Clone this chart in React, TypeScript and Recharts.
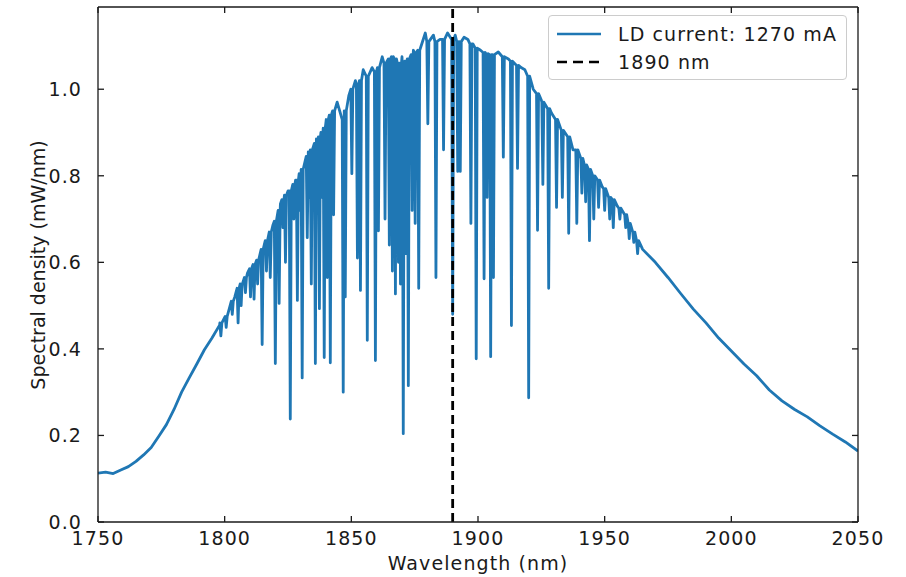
import { LineChart, Line, XAxis, YAxis, ReferenceLine, Label } from 'recharts'

// smooth upper envelope of the spectrum (nm, mW/nm)
const baseNm = [
  1750, 1753, 1756, 1759, 1762, 1765, 1768, 1771, 1774, 1777, 1780, 1783, 1786, 1789, 1792, 1795, 1798,
  1801, 1804, 1807, 1809, 1813, 1816, 1819, 1822, 1825, 1828, 1831, 1834, 1837, 1840, 1843, 1844.4, 1849,
  1851.6, 1854.7, 1858.2, 1862.2, 1865.8, 1870, 1874.5, 1877, 1879.2, 1882.4, 1885, 1888, 1891, 1894.5, 1896,
  1898, 1901, 1904, 1908, 1912, 1917, 1918.5, 1921.8, 1925, 1929, 1933, 1937.5, 1942, 1946, 1949, 1952,
  1955, 1960, 1965, 1970, 1975, 1980, 1985, 1990, 1995, 2000, 2005, 2010, 2015, 2020, 2025, 2030, 2035,
  2040, 2045, 2050,
]
const baseMw = [
  0.113, 0.115, 0.112, 0.12, 0.128, 0.14, 0.155, 0.172, 0.198, 0.225, 0.26, 0.3, 0.333, 0.365, 0.398, 0.425, 0.455,
  0.485, 0.52, 0.55, 0.575, 0.605, 0.65, 0.685, 0.735, 0.765, 0.79, 0.82, 0.86, 0.89, 0.925, 0.955, 0.97, 0.985,
  1.02, 1.045, 1.05, 1.075, 1.09, 1.075, 1.09, 1.1, 1.13, 1.125, 1.115, 1.13, 1.125, 1.12, 1.115,
  1.105, 1.09, 1.085, 1.086, 1.07, 1.05, 1.045, 1.0, 0.975, 0.945, 0.91, 0.86, 0.825, 0.8, 0.775, 0.75,
  0.73, 0.675, 0.63, 0.6, 0.565, 0.528, 0.492, 0.46, 0.425, 0.395, 0.365, 0.338, 0.305, 0.28, 0.26, 0.243, 0.222,
  0.203, 0.185, 0.164,
]

// absorption lines: centre, level either side, bottom of the dip
const dipNm = [
  1798.5, 1800.6, 1803.0, 1805.3, 1806.5, 1808.2, 1810.2, 1811.6, 1813.0, 1814.8, 1816.5, 1818.0, 1820.0,
  1821.5, 1823.0, 1824.0, 1825.9, 1827.3, 1828.7, 1829.8, 1830.6, 1832.6, 1833.4, 1834.2, 1835.8, 1836.6,
  1837.4, 1838.4, 1839.3, 1840.5, 1841.7, 1843.0, 1846.8, 1847.6, 1850.2, 1852.4, 1853.6, 1856.3, 1859.5,
  1860.7, 1863.3, 1865.0, 1866.2, 1867.4, 1868.6, 1869.4, 1870.5, 1871.5, 1872.5, 1874.0, 1875.2, 1876.6,
  1880.2, 1883.4, 1886.4, 1890.0, 1892.0, 1893.0, 1897.2, 1899.3, 1902.4, 1903.6, 1905.0, 1906.1, 1910.0,
  1913.2, 1915.6, 1920.0, 1923.5, 1925.6, 1927.9, 1931.0, 1933.3, 1935.8, 1939.0, 1941.0, 1942.5, 1944.0,
  1945.7, 1947.6, 1950.0, 1952.0, 1953.4, 1956.0, 1958.3, 1959.7, 1961.5, 1963.0,
]
const dipTop = [
  0.46, 0.475, 0.51, 0.54, 0.55, 0.565, 0.585, 0.595, 0.605, 0.63, 0.65, 0.67, 0.695,
  0.72, 0.745, 0.755, 0.765, 0.78, 0.79, 0.805, 0.815, 0.845, 0.855, 0.86, 0.875, 0.885,
  0.89, 0.9, 0.91, 0.93, 0.94, 0.95, 0.93, 0.95, 1.0, 1.01, 1.02, 1.03, 1.04,
  1.05, 1.06, 1.07, 1.075, 1.07, 1.06, 1.06, 1.06, 1.065, 1.07, 1.08, 1.085, 1.09,
  1.11, 1.11, 1.115, 1.115, 1.11, 1.11, 1.105, 1.095, 1.085, 1.082, 1.08,
  1.08, 1.075, 1.065, 1.055, 1.03, 0.99, 0.97, 0.955,
  0.93, 0.905, 0.89, 0.86, 0.84, 0.825, 0.815, 0.8, 0.79, 0.77, 0.75, 0.745,
  0.725, 0.71, 0.69, 0.67, 0.65,
]
const dipFloor = [
  0.43, 0.45, 0.48, 0.46, 0.5, 0.53, 0.52, 0.515, 0.55, 0.41, 0.58, 0.565, 0.366,
  0.505, 0.68, 0.6, 0.238, 0.7, 0.512, 0.72, 0.333, 0.657, 0.75, 0.55, 0.366, 0.8,
  0.493, 0.75, 0.38, 0.565, 0.368, 0.71, 0.3, 0.52, 0.805, 0.61, 0.535, 0.42, 0.373,
  0.673, 0.7, 0.64, 0.58, 0.527, 0.6, 0.55, 0.204, 0.62, 0.315, 0.72, 0.69, 0.54,
  0.92, 0.565, 0.86, 0.48, 0.81, 0.81, 0.69, 0.377, 0.562, 0.75, 0.382, 0.565, 0.843,
  0.454, 0.817, 0.287, 0.674, 0.78, 0.54, 0.727, 0.75, 0.667, 0.69, 0.76, 0.74, 0.65,
  0.7, 0.727, 0.72, 0.7, 0.68, 0.7, 0.68, 0.655, 0.646, 0.62,
]

const xTicks = [1750, 1800, 1850, 1900, 1950, 2000, 2050]
const yTicks = [0, 0.2, 0.4, 0.6, 0.8, 1.0]
const markerNm = 1890
const seriesName = 'LD current: 1270 mA'
const markerName = '1890 nm'

const font = '"DejaVu Sans", sans-serif'
const ink = '#1a1a1a'
const blue = '#1f77b4'
const W = 906
const H = 577
const plotTop = 7
const plotBottom = 522
const plotLeft = 98
const plotRight = 858
const tickLen = 6

const points = [
  ...baseNm
    .map((nm, i) => ({ nm, mw: baseMw[i] }))
    .filter((p) => !dipNm.some((d) => Math.abs(d - p.nm) < 0.5)),
  ...dipNm.flatMap((nm, i) => [
    { nm: nm - 0.4, mw: dipTop[i] },
    { nm, mw: dipFloor[i] },
    { nm: nm + 0.4, mw: dipTop[i] },
  ]),
].sort((a, b) => a.nm - b.nm)

const textStyle = { fontFamily: font, fontSize: 19, fill: ink, letterSpacing: 1.1 }
const frame = { stroke: ink, strokeWidth: 1.3 }

// matplotlib style: ticks point into the plot on all four sides
const BottomTick = (p: any) => (
  <g>
    <line x1={p.x} x2={p.x} y1={plotBottom} y2={plotBottom - tickLen} {...frame} />
    <text x={p.x} y={plotBottom + 23} textAnchor="middle" style={textStyle}>
      {p.payload.value}
    </text>
  </g>
)
const TopTick = (p: any) => <line x1={p.x} x2={p.x} y1={plotTop} y2={plotTop + tickLen} {...frame} />
const LeftTick = (p: any) => (
  <g>
    <line x1={plotLeft} x2={plotLeft + tickLen} y1={p.y} y2={p.y} {...frame} />
    <text x={plotLeft - 16} y={p.y} textAnchor="end" dominantBaseline="central" style={textStyle}>
      {Number(p.payload.value).toFixed(1)}
    </text>
  </g>
)
const RightTick = (p: any) => <line x1={plotRight} x2={plotRight - tickLen} y1={p.y} y2={p.y} {...frame} />

function LegendBox() {
  const row = { display: 'flex', alignItems: 'center', height: 28 }
  return (
    <div
      style={{
        position: 'absolute',
        left: 548,
        top: 15,
        width: 299,
        height: 65,
        boxSizing: 'border-box',
        border: '1px solid #cccccc',
        borderRadius: 4,
        background: '#fff',
        fontFamily: font,
        fontSize: 19,
        letterSpacing: 1.1,
        color: ink,
        padding: '4px 0 0 7px',
      }}
    >
      <div style={row}>
        <svg width={46} height={10} style={{ marginRight: 16 }}>
          <line x1={1} y1={5} x2={45} y2={5} stroke={blue} strokeWidth={2.6} />
        </svg>
        <span>{seriesName}</span>
      </div>
      <div style={row}>
        <svg width={46} height={10} style={{ marginRight: 16 }}>
          <line x1={1} y1={5} x2={45} y2={5} stroke="#000" strokeWidth={2.6} strokeDasharray="10 6" />
        </svg>
        <span>{markerName}</span>
      </div>
    </div>
  )
}

export default function App() {
  return (
    <div style={{ position: 'absolute', left: 0, top: 0, width: W, height: H, background: '#fff' }}>
      <LineChart
        width={W}
        height={H}
        data={points}
        margin={{ top: plotTop - 1, right: W - plotRight - 1, bottom: 0, left: 0 }}
      >
        <XAxis
          xAxisId="b"
          dataKey="nm"
          type="number"
          domain={[1750, 2050]}
          ticks={xTicks}
          allowDataOverflow
          height={H - plotBottom}
          tickLine={false}
          tick={BottomTick}
          axisLine={frame}
        >
          <Label value="Wavelength (nm)" position="insideBottom" offset={7} style={textStyle} />
        </XAxis>
        <XAxis
          xAxisId="t"
          orientation="top"
          dataKey="nm"
          type="number"
          domain={[1750, 2050]}
          ticks={xTicks}
          allowDataOverflow
          height={1}
          tickLine={false}
          tick={TopTick}
          axisLine={frame}
        />
        <YAxis
          yAxisId="l"
          type="number"
          domain={[0, 1.19]}
          ticks={yTicks}
          allowDataOverflow
          width={plotLeft}
          tickLine={false}
          tick={LeftTick}
          axisLine={frame}
        >
          <Label
            content={() => (
              <text
                x={38}
                y={265}
                transform="rotate(-90 38 265)"
                textAnchor="middle"
                dominantBaseline="central"
                style={{ fontFamily: font, fontSize: 19, fill: ink }}
              >
                Spectral density (mW/nm)
              </text>
            )}
          />
        </YAxis>
        <YAxis
          yAxisId="r"
          orientation="right"
          type="number"
          domain={[0, 1.19]}
          ticks={yTicks}
          allowDataOverflow
          width={1}
          tickLine={false}
          tick={RightTick}
          axisLine={frame}
        />
        <Line
          xAxisId="b"
          yAxisId="l"
          dataKey="mw"
          type="linear"
          stroke={blue}
          strokeWidth={2.8}
          dot={false}
          activeDot={false}
          isAnimationActive={false}
          strokeLinejoin="round"
        />
        <ReferenceLine
          xAxisId="b"
          yAxisId="l"
          x={markerNm}
          stroke="#000"
          strokeWidth={2.8}
          strokeDasharray="9 5"
        />
      </LineChart>
      <LegendBox />
    </div>
  )
}
